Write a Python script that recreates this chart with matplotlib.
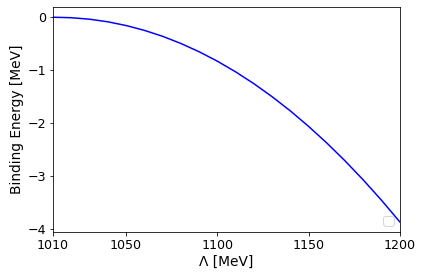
import matplotlib
matplotlib.use("Agg")
import matplotlib.pyplot as plt

# cutoff values and binding energies
cutoff = [1010, 1020, 1030, 1040, 1050, 1060, 1070, 1080, 1090, 1100,
          1110, 1120, 1130, 1140, 1150, 1160, 1170, 1180, 1190, 1200]
binding = [0.000, -0.009, -0.037, -0.086, -0.156, -0.247, -0.359, -0.494, -0.650, -0.828,
           -1.029, -1.252, -1.498, -1.766, -2.058, -2.372, -2.709, -3.070, -3.453, -3.860]

plt.rcParams["font.size"] = 12.6
plt.rcParams["axes.labelsize"] = 13.8

fig, ax = plt.subplots(figsize=(424 / 72, 280 / 72), dpi=72)
fig.subplots_adjust(left=0.125, right=0.943, top=0.975, bottom=0.171)

ax.plot(cutoff, binding, color="blue")
ax.set_xlim(1010, 1200)
ax.set_xticks([1010, 1050, 1100, 1150, 1200])
ax.set_yticks([0, -1, -2, -3, -4])
ax.set_xlabel("Λ [MeV]", labelpad=3)
ax.set_ylabel("Binding Energy [MeV]", labelpad=3)
ax.legend(loc="lower right")

fig.savefig("out.png", dpi=72)
